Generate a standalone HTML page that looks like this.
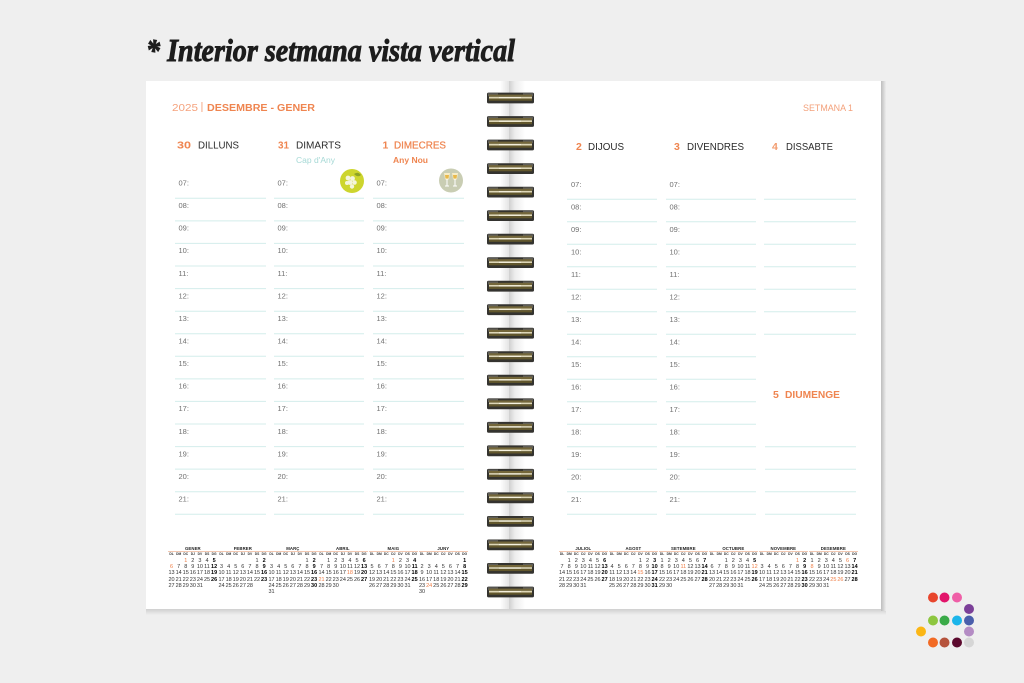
<!DOCTYPE html>
<html><head><meta charset="utf-8">
<style>
html,body{margin:0;padding:0;}
body{width:1024px;height:683px;overflow:hidden;background:#efefef;position:relative;font-family:"Liberation Sans",sans-serif;}
svg{position:absolute;left:0;top:0;}
.mn{position:absolute;top:545.5px;width:49.7px;text-align:center;font:bold 4.3px/5px "Liberation Sans",sans-serif;color:#222;letter-spacing:0.1px;}
.ln{position:absolute;top:551px;width:49.7px;height:0.7px;background:#f3c7b0;}
.hd{position:absolute;top:552.3px;width:49.7px;display:grid;grid-template-columns:repeat(7,7.1px);font:bold 3.3px/4.4px "Liberation Sans",sans-serif;color:#333;text-align:center;}
.hd i{font-style:normal;}
.cal{position:absolute;top:557.8px;width:49.7px;display:grid;grid-template-columns:repeat(7,7.1px);grid-auto-rows:6.3px;font:5.5px/6.3px "Liberation Sans",sans-serif;color:#333;text-align:center;}
.cal i{font-style:normal;}
.cal b{font-weight:bold;color:#000;}
.cal u{text-decoration:none;color:#ef7d45;}
</style></head>
<body>
<svg width="1024" height="683" viewBox="0 0 1024 683" xmlns="http://www.w3.org/2000/svg">
<defs>
<linearGradient id="gut" x1="0" x2="1" y1="0" y2="0">
<stop offset="0" stop-color="#cfcfcf"/><stop offset="0.35" stop-color="#ececec"/><stop offset="1" stop-color="#ffffff"/>
</linearGradient>
<linearGradient id="gutl" x1="0" x2="1" y1="0" y2="0">
<stop offset="0" stop-color="#ffffff"/><stop offset="1" stop-color="#e4e4e4"/>
</linearGradient>
<linearGradient id="redge" x1="0" x2="1" y1="0" y2="0">
<stop offset="0" stop-color="#bdbdbd"/><stop offset="1" stop-color="#ececec"/>
</linearGradient>
<linearGradient id="bsh" x1="0" x2="0" y1="0" y2="1">
<stop offset="0" stop-color="#cfcfcf"/><stop offset="1" stop-color="#efefef"/>
</linearGradient>
<g id="ring">
<rect x="487" y="-5.4" width="47" height="10.8" rx="1.5" fill="#34332f"/>
<rect x="488" y="-4.8" width="10" height="3" fill="#5e5d58"/>
<rect x="523" y="-4.8" width="10" height="3" fill="#5e5d58"/>
<rect x="489" y="-3.4" width="43" height="2.2" fill="#74673a"/>
<rect x="489" y="-1.2" width="43" height="1.7" fill="#ddd6b6"/>
<rect x="489" y="0.5" width="43" height="2.2" fill="#62572c"/>
<rect x="499" y="-0.9" width="22" height="1.1" fill="#f6f2e0"/>
</g>
</defs>

<!-- title -->
<text x="146" y="61" font-family="Liberation Serif, serif" font-weight="bold" font-style="italic" font-size="32" textLength="369" lengthAdjust="spacingAndGlyphs" fill="#1d1d1d" stroke="#1d1d1d" stroke-width="0.9">* Interior setmana vista vertical</text>

<!-- pages -->
<rect x="146" y="609" width="740" height="6" fill="url(#bsh)"/>
<rect x="146" y="81" width="364" height="528" fill="#ffffff"/>
<rect x="510" y="81" width="371" height="528" fill="#ffffff"/>
<rect x="881" y="81" width="5" height="530" fill="url(#redge)"/>
<rect x="500" y="81" width="9" height="528" fill="url(#gutl)"/>
<rect x="509" y="81" width="16" height="528" fill="url(#gut)"/>

<g font-family="Liberation Sans, sans-serif">
<!-- left header -->
<text x="172" y="111" font-size="10.5" fill="#f5a27d" textLength="26" lengthAdjust="spacingAndGlyphs">2025</text>
<rect x="201.5" y="102" width="0.9" height="10" fill="#f5a27d"/>
<text x="207" y="111" font-size="10.5" font-weight="bold" fill="#ef8550" textLength="108" lengthAdjust="spacingAndGlyphs">DESEMBRE - GENER</text>
<text x="803" y="111" font-size="9.5" fill="#f3a07a" textLength="50" lengthAdjust="spacingAndGlyphs">SETMANA 1</text>

<!-- day headers left -->
<text x="177" y="148.5" font-size="10.5" font-weight="bold" fill="#ef8550" textLength="14" lengthAdjust="spacingAndGlyphs">30</text>
<text x="198" y="148.5" font-size="10" fill="#2a2a2a" textLength="41" lengthAdjust="spacingAndGlyphs">DILLUNS</text>
<text x="278" y="148.5" font-size="10.5" font-weight="bold" fill="#ef8550" textLength="11" lengthAdjust="spacingAndGlyphs">31</text>
<text x="296" y="148.5" font-size="10" fill="#2a2a2a" textLength="45" lengthAdjust="spacingAndGlyphs">DIMARTS</text>
<text x="382.5" y="148.5" font-size="10.5" font-weight="bold" fill="#ef8550">1</text>
<text x="394" y="148.5" font-size="10" fill="#ef8550" stroke="#ef8550" stroke-width="0.25" textLength="52" lengthAdjust="spacingAndGlyphs">DIMECRES</text>
<text x="296" y="163" font-size="8" fill="#a6d9d6" textLength="39" lengthAdjust="spacingAndGlyphs">Cap d'Any</text>
<text x="393" y="163" font-size="8" font-weight="bold" fill="#ef8550" textLength="35" lengthAdjust="spacingAndGlyphs">Any Nou</text>

<!-- day headers right -->
<text x="576" y="150" font-size="10.5" font-weight="bold" fill="#ef8550">2</text>
<text x="588" y="150" font-size="10" fill="#2a2a2a" textLength="36" lengthAdjust="spacingAndGlyphs">DIJOUS</text>
<text x="674" y="150" font-size="10.5" font-weight="bold" fill="#ef8550">3</text>
<text x="687" y="150" font-size="10" fill="#2a2a2a" textLength="57" lengthAdjust="spacingAndGlyphs">DIVENDRES</text>
<text x="772" y="150" font-size="10.5" font-weight="bold" fill="#f29a6c">4</text>
<text x="786" y="150" font-size="10" fill="#2a2a2a" textLength="47" lengthAdjust="spacingAndGlyphs">DISSABTE</text>
<text x="773" y="398" font-size="10.5" font-weight="bold" fill="#ef8550">5</text>
<text x="785" y="398" font-size="10" font-weight="bold" fill="#ef8550" textLength="55" lengthAdjust="spacingAndGlyphs">DIUMENGE</text>

<!-- icons -->
<circle cx="352" cy="181" r="12" fill="#cdd52e"/>
<g fill="#f4f5dc">
<circle cx="348" cy="178" r="2.4"/><circle cx="352.5" cy="178.5" r="2.4"/><circle cx="350" cy="182.5" r="2.4"/><circle cx="354.5" cy="182.5" r="2.3"/><circle cx="352" cy="186.5" r="2.2"/><circle cx="347" cy="183" r="2"/>
</g>
<path d="M354 174 q4 -3 7 1 q-3 3 -7 -1z" fill="#8ea325"/>
<circle cx="451" cy="180.5" r="12" fill="#c9cdb3"/>
<path d="M444 173 h6 l-1 6 q-2 2 -4 0z M452 173 h6 l-1 6 q-2 2 -4 0z" fill="#f6ecc6"/>
<path d="M447 179 v7 M455 179 v7 M445 186 h4 M453 186 h4" stroke="#ffffff" stroke-width="1"/>
<path d="M445 175 h4 l-0.5 3.5 h-3z M453 175 h4 l-0.5 3.5 h-3z" fill="#e8b84a"/>

<!-- lines left -->
<g stroke="#d4edeb" stroke-width="1" fill="none">
<path d="M175 198.3H266M175 220.9H266M175 243.4H266M175 266H266M175 288.6H266M175 311.2H266M175 333.7H266M175 356.3H266M175 378.9H266M175 401.4H266M175 424H266M175 446.6H266M175 469.1H266M175 491.7H266M175 514.3H266"/>
<path d="M274 198.3H364M274 220.9H364M274 243.4H364M274 266H364M274 288.6H364M274 311.2H364M274 333.7H364M274 356.3H364M274 378.9H364M274 401.4H364M274 424H364M274 446.6H364M274 469.1H364M274 491.7H364M274 514.3H364"/>
<path d="M373 198.3H464M373 220.9H464M373 243.4H464M373 266H464M373 288.6H464M373 311.2H464M373 333.7H464M373 356.3H464M373 378.9H464M373 401.4H464M373 424H464M373 446.6H464M373 469.1H464M373 491.7H464M373 514.3H464"/>
<!-- lines right -->
<path d="M567 199.3H657M567 221.8H657M567 244.3H657M567 266.8H657M567 289.3H657M567 311.8H657M567 334.3H657M567 356.8H657M567 379.3H657M567 401.8H657M567 424.3H657M567 446.8H657M567 469.3H657M567 491.8H657M567 514.3H657"/>
<path d="M666 199.3H756M666 221.8H756M666 244.3H756M666 266.8H756M666 289.3H756M666 311.8H756M666 334.3H756M666 356.8H756M666 379.3H756M666 401.8H756M666 424.3H756M666 446.8H756M666 469.3H756M666 491.8H756M666 514.3H756"/>
<path d="M764 199.3H856M764 221.8H856M764 244.3H856M764 266.8H856M764 289.3H856M764 311.8H856M764 334.3H856M765 446.8H856M765 469.3H856M765 491.8H856M765 514.3H856"/>
</g>

<!-- hour labels left -->
<g font-size="7.5" fill="#707070">
<text x="178.5" y="185.5">07:</text><text x="178.5" y="208.1">08:</text><text x="178.5" y="230.6">09:</text><text x="178.5" y="253.2">10:</text><text x="178.5" y="275.8">11:</text><text x="178.5" y="298.4">12:</text><text x="178.5" y="320.9">13:</text><text x="178.5" y="343.5">14:</text><text x="178.5" y="366.1">15:</text><text x="178.5" y="388.6">16:</text><text x="178.5" y="411.2">17:</text><text x="178.5" y="433.8">18:</text><text x="178.5" y="456.3">19:</text><text x="178.5" y="478.9">20:</text><text x="178.5" y="501.5">21:</text>
<text x="277.5" y="185.5">07:</text><text x="277.5" y="208.1">08:</text><text x="277.5" y="230.6">09:</text><text x="277.5" y="253.2">10:</text><text x="277.5" y="275.8">11:</text><text x="277.5" y="298.4">12:</text><text x="277.5" y="320.9">13:</text><text x="277.5" y="343.5">14:</text><text x="277.5" y="366.1">15:</text><text x="277.5" y="388.6">16:</text><text x="277.5" y="411.2">17:</text><text x="277.5" y="433.8">18:</text><text x="277.5" y="456.3">19:</text><text x="277.5" y="478.9">20:</text><text x="277.5" y="501.5">21:</text>
<text x="376.5" y="185.5">07:</text><text x="376.5" y="208.1">08:</text><text x="376.5" y="230.6">09:</text><text x="376.5" y="253.2">10:</text><text x="376.5" y="275.8">11:</text><text x="376.5" y="298.4">12:</text><text x="376.5" y="320.9">13:</text><text x="376.5" y="343.5">14:</text><text x="376.5" y="366.1">15:</text><text x="376.5" y="388.6">16:</text><text x="376.5" y="411.2">17:</text><text x="376.5" y="433.8">18:</text><text x="376.5" y="456.3">19:</text><text x="376.5" y="478.9">20:</text><text x="376.5" y="501.5">21:</text>
<!-- right -->
<text x="571" y="187">07:</text><text x="571" y="209.5">08:</text><text x="571" y="232">09:</text><text x="571" y="254.5">10:</text><text x="571" y="277">11:</text><text x="571" y="299.5">12:</text><text x="571" y="322">13:</text><text x="571" y="344.5">14:</text><text x="571" y="367">15:</text><text x="571" y="389.5">16:</text><text x="571" y="412">17:</text><text x="571" y="434.5">18:</text><text x="571" y="457">19:</text><text x="571" y="479.5">20:</text><text x="571" y="502">21:</text>
<text x="669.5" y="187">07:</text><text x="669.5" y="209.5">08:</text><text x="669.5" y="232">09:</text><text x="669.5" y="254.5">10:</text><text x="669.5" y="277">11:</text><text x="669.5" y="299.5">12:</text><text x="669.5" y="322">13:</text><text x="669.5" y="344.5">14:</text><text x="669.5" y="367">15:</text><text x="669.5" y="389.5">16:</text><text x="669.5" y="412">17:</text><text x="669.5" y="434.5">18:</text><text x="669.5" y="457">19:</text><text x="669.5" y="479.5">20:</text><text x="669.5" y="502">21:</text>
</g>
</g>

<!-- spiral -->
<use href="#ring" y="98"/><use href="#ring" y="121.5"/><use href="#ring" y="145"/><use href="#ring" y="168.6"/><use href="#ring" y="192.1"/><use href="#ring" y="215.6"/><use href="#ring" y="239.1"/><use href="#ring" y="262.6"/><use href="#ring" y="286.2"/><use href="#ring" y="309.7"/><use href="#ring" y="333.2"/><use href="#ring" y="356.7"/><use href="#ring" y="380.2"/><use href="#ring" y="403.8"/><use href="#ring" y="427.3"/><use href="#ring" y="450.8"/><use href="#ring" y="474.3"/><use href="#ring" y="497.8"/><use href="#ring" y="521.4"/><use href="#ring" y="544.9"/><use href="#ring" y="568.4"/><use href="#ring" y="592"/>

<!-- logo -->
<circle cx="933" cy="597.5" r="5" fill="#e8452c"/><circle cx="944.5" cy="597.5" r="5" fill="#e2156b"/><circle cx="957" cy="597.5" r="5" fill="#ef5fa7"/>
<circle cx="969" cy="609" r="5" fill="#7b3f98"/>
<circle cx="933" cy="620.5" r="5" fill="#8dc63f"/><circle cx="944.5" cy="620.5" r="5" fill="#3aaa48"/><circle cx="957" cy="620.5" r="5" fill="#1cb5ea"/><circle cx="969" cy="620.5" r="5" fill="#4a5eab"/>
<circle cx="921" cy="631.5" r="5" fill="#fbb615"/><circle cx="969" cy="631.5" r="5" fill="#b48cc4"/>
<circle cx="933" cy="642.5" r="5" fill="#f26a24"/><circle cx="944.5" cy="642.5" r="5" fill="#b5533c"/><circle cx="957" cy="642.5" r="5" fill="#5c0a2e"/><circle cx="969" cy="642.5" r="5" fill="#d6d6d6"/>
</svg>

<!-- mini calendars left page -->
<div class="mn" style="left:168px">GENER</div><div class="ln" style="left:168px"></div>
<div class="hd" style="left:168px"><i>DL</i><i>DM</i><i>DC</i><i>DJ</i><i>DV</i><i>DS</i><i>DG</i></div>
<div class="cal" style="left:168px"><u style="grid-column:3">1</u><i>2</i><i>3</i><i>4</i><b>5</b><u>6</u><i>7</i><i>8</i><i>9</i><i>10</i><i>11</i><b>12</b><i>13</i><i>14</i><i>15</i><i>16</i><i>17</i><i>18</i><b>19</b><i>20</i><i>21</i><i>22</i><i>23</i><i>24</i><i>25</i><b>26</b><i>27</i><i>28</i><i>29</i><i>30</i><i>31</i></div>

<div class="mn" style="left:218px">FEBRER</div><div class="ln" style="left:218px"></div>
<div class="hd" style="left:218px"><i>DL</i><i>DM</i><i>DC</i><i>DJ</i><i>DV</i><i>DS</i><i>DG</i></div>
<div class="cal" style="left:218px"><i style="grid-column:6">1</i><b>2</b><i>3</i><i>4</i><i>5</i><i>6</i><i>7</i><i>8</i><b>9</b><i>10</i><i>11</i><i>12</i><i>13</i><i>14</i><i>15</i><b>16</b><i>17</i><i>18</i><i>19</i><i>20</i><i>21</i><i>22</i><b>23</b><i>24</i><i>25</i><i>26</i><i>27</i><i>28</i></div>

<div class="mn" style="left:268px">MARÇ</div><div class="ln" style="left:268px"></div>
<div class="hd" style="left:268px"><i>DL</i><i>DM</i><i>DC</i><i>DJ</i><i>DV</i><i>DS</i><i>DG</i></div>
<div class="cal" style="left:268px"><i style="grid-column:6">1</i><b>2</b><i>3</i><i>4</i><i>5</i><i>6</i><i>7</i><i>8</i><b>9</b><i>10</i><i>11</i><i>12</i><i>13</i><i>14</i><i>15</i><b>16</b><i>17</i><i>18</i><i>19</i><i>20</i><i>21</i><i>22</i><b>23</b><i>24</i><i>25</i><i>26</i><i>27</i><i>28</i><i>29</i><b>30</b><i>31</i></div>

<div class="mn" style="left:318px">ABRIL</div><div class="ln" style="left:318px"></div>
<div class="hd" style="left:318px"><i>DL</i><i>DM</i><i>DC</i><i>DJ</i><i>DV</i><i>DS</i><i>DG</i></div>
<div class="cal" style="left:318px"><i style="grid-column:2">1</i><i>2</i><i>3</i><i>4</i><i>5</i><b>6</b><i>7</i><i>8</i><i>9</i><i>10</i><i>11</i><i>12</i><b>13</b><i>14</i><i>15</i><i>16</i><i>17</i><u>18</u><i>19</i><b>20</b><u>21</u><i>22</i><i>23</i><i>24</i><i>25</i><i>26</i><b>27</b><i>28</i><i>29</i><i>30</i></div>

<div class="mn" style="left:368.5px">MAIG</div><div class="ln" style="left:368.5px"></div>
<div class="hd" style="left:368.5px"><i>DL</i><i>DM</i><i>DC</i><i>DJ</i><i>DV</i><i>DS</i><i>DG</i></div>
<div class="cal" style="left:368.5px"><u style="grid-column:4">1</u><i>2</i><i>3</i><b>4</b><i>5</i><i>6</i><i>7</i><i>8</i><i>9</i><i>10</i><b>11</b><i>12</i><i>13</i><i>14</i><i>15</i><i>16</i><i>17</i><b>18</b><i>19</i><i>20</i><i>21</i><i>22</i><i>23</i><i>24</i><b>25</b><i>26</i><i>27</i><i>28</i><i>29</i><i>30</i><i>31</i></div>

<div class="mn" style="left:418.5px">JUNY</div><div class="ln" style="left:418.5px"></div>
<div class="hd" style="left:418.5px"><i>DL</i><i>DM</i><i>DC</i><i>DJ</i><i>DV</i><i>DS</i><i>DG</i></div>
<div class="cal" style="left:418.5px"><b style="grid-column:7">1</b><i>2</i><i>3</i><i>4</i><i>5</i><i>6</i><i>7</i><b>8</b><i>9</i><i>10</i><i>11</i><i>12</i><i>13</i><i>14</i><b>15</b><i>16</i><i>17</i><i>18</i><i>19</i><i>20</i><i>21</i><b>22</b><i>23</i><u>24</u><i>25</i><i>26</i><i>27</i><i>28</i><b>29</b><i>30</i></div>

<!-- mini calendars right page -->
<div class="mn" style="left:558.5px">JULIOL</div><div class="ln" style="left:558.5px"></div>
<div class="hd" style="left:558.5px"><i>DL</i><i>DM</i><i>DC</i><i>DJ</i><i>DV</i><i>DS</i><i>DG</i></div>
<div class="cal" style="left:558.5px"><i style="grid-column:2">1</i><i>2</i><i>3</i><i>4</i><i>5</i><b>6</b><i>7</i><i>8</i><i>9</i><i>10</i><i>11</i><i>12</i><b>13</b><i>14</i><i>15</i><i>16</i><i>17</i><i>18</i><i>19</i><b>20</b><i>21</i><i>22</i><i>23</i><i>24</i><i>25</i><i>26</i><b>27</b><i>28</i><i>29</i><i>30</i><i>31</i></div>

<div class="mn" style="left:608.5px">AGOST</div><div class="ln" style="left:608.5px"></div>
<div class="hd" style="left:608.5px"><i>DL</i><i>DM</i><i>DC</i><i>DJ</i><i>DV</i><i>DS</i><i>DG</i></div>
<div class="cal" style="left:608.5px"><i style="grid-column:5">1</i><i>2</i><b>3</b><i>4</i><i>5</i><i>6</i><i>7</i><i>8</i><i>9</i><b>10</b><i>11</i><i>12</i><i>13</i><i>14</i><u>15</u><i>16</i><b>17</b><i>18</i><i>19</i><i>20</i><i>21</i><i>22</i><i>23</i><b>24</b><i>25</i><i>26</i><i>27</i><i>28</i><i>29</i><i>30</i><b>31</b></div>

<div class="mn" style="left:658.5px">SETEMBRE</div><div class="ln" style="left:658.5px"></div>
<div class="hd" style="left:658.5px"><i>DL</i><i>DM</i><i>DC</i><i>DJ</i><i>DV</i><i>DS</i><i>DG</i></div>
<div class="cal" style="left:658.5px"><i>1</i><i>2</i><i>3</i><i>4</i><i>5</i><i>6</i><b>7</b><i>8</i><i>9</i><i>10</i><u>11</u><i>12</i><i>13</i><b>14</b><i>15</i><i>16</i><i>17</i><i>18</i><i>19</i><i>20</i><b>21</b><i>22</i><i>23</i><i>24</i><i>25</i><i>26</i><i>27</i><b>28</b><i>29</i><i>30</i></div>

<div class="mn" style="left:708.5px">OCTUBRE</div><div class="ln" style="left:708.5px"></div>
<div class="hd" style="left:708.5px"><i>DL</i><i>DM</i><i>DC</i><i>DJ</i><i>DV</i><i>DS</i><i>DG</i></div>
<div class="cal" style="left:708.5px"><i style="grid-column:3">1</i><i>2</i><i>3</i><i>4</i><b>5</b><i>6</i><i>7</i><i>8</i><i>9</i><i>10</i><i>11</i><u>12</u><i>13</i><i>14</i><i>15</i><i>16</i><i>17</i><i>18</i><b>19</b><i>20</i><i>21</i><i>22</i><i>23</i><i>24</i><i>25</i><b>26</b><i>27</i><i>28</i><i>29</i><i>30</i><i>31</i></div>

<div class="mn" style="left:758.5px">NOVEMBRE</div><div class="ln" style="left:758.5px"></div>
<div class="hd" style="left:758.5px"><i>DL</i><i>DM</i><i>DC</i><i>DJ</i><i>DV</i><i>DS</i><i>DG</i></div>
<div class="cal" style="left:758.5px"><u style="grid-column:6">1</u><b>2</b><i>3</i><i>4</i><i>5</i><i>6</i><i>7</i><i>8</i><b>9</b><i>10</i><i>11</i><i>12</i><i>13</i><i>14</i><i>15</i><b>16</b><i>17</i><i>18</i><i>19</i><i>20</i><i>21</i><i>22</i><b>23</b><i>24</i><i>25</i><i>26</i><i>27</i><i>28</i><i>29</i><b>30</b></div>

<div class="mn" style="left:808.5px">DESEMBRE</div><div class="ln" style="left:808.5px"></div>
<div class="hd" style="left:808.5px"><i>DL</i><i>DM</i><i>DC</i><i>DJ</i><i>DV</i><i>DS</i><i>DG</i></div>
<div class="cal" style="left:808.5px"><i>1</i><i>2</i><i>3</i><i>4</i><i>5</i><u>6</u><b>7</b><u>8</u><i>9</i><i>10</i><i>11</i><i>12</i><i>13</i><b>14</b><i>15</i><i>16</i><i>17</i><i>18</i><i>19</i><i>20</i><b>21</b><i>22</i><i>23</i><i>24</i><u>25</u><u>26</u><i>27</i><b>28</b><i>29</i><i>30</i><i>31</i></div>

</body></html>
